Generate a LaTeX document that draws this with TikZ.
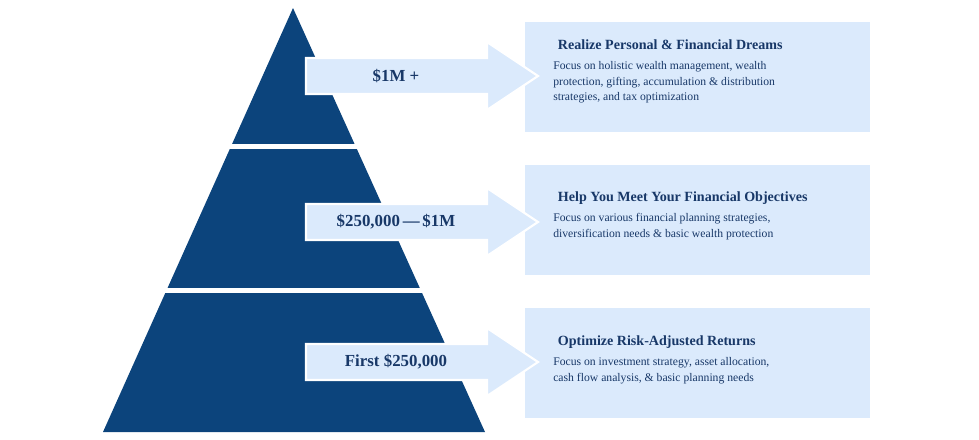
\documentclass[tikz,border=0pt]{standalone}
\usepackage{fontspec}
\setmainfont{Liberation Serif}
\definecolor{pyrblue}{RGB}{12,68,124}
\definecolor{paleblue}{RGB}{219,234,252}
\definecolor{inkblue}{RGB}{24,56,104}
\tikzset{
  band/.style    = {fill=pyrblue, draw=none},
  gapline/.style = {white, line width=3pt},
  arrowbox/.style = {fill=paleblue, draw=white, line width=1.5pt, line join=miter},
  amount/.style  = {font=\fontsize{12}{14}\selectfont\bfseries, text=inkblue},
  infobox/.style = {fill=paleblue, draw=none, minimum width=245bp, minimum height=78bp, anchor=north west},
  heading/.style = {font=\fontsize{10}{12}\selectfont\bfseries, text=inkblue, anchor=west},
  detail/.style  = {font=\fontsize{8.3}{11.2}\selectfont, text=inkblue, anchor=north west, align=left}
}
\begin{document}
\begin{tikzpicture}[x=0.25mm, y=-0.25mm]
  \useasboundingbox (0,0) rectangle (979,439);
  % pyramid
  \fill[band] (293,8) -- (485,432) -- (103,432) -- cycle;
  \draw[gapline] (150,146.5) -- (440,146.5);
  \draw[gapline] (80,290.5) -- (500,290.5);
  % boxes
  \node[infobox, minimum width=345*0.25mm, minimum height=110*0.25mm] (top) at (525,22) {};
  \node[infobox, minimum width=345*0.25mm, minimum height=110*0.25mm] (mid) at (525,165) {};
  \node[infobox, minimum width=345*0.25mm, minimum height=110*0.25mm] (low) at (525,308) {};
  % arrows
  \foreach \y/\amt/\nm in {76/{\$1M +}/a, 222/{\$250,000\,\textemdash\,\$1M}/b, 362/{First \$250,000}/c} {
    \draw[arrowbox] (306,\y-18) -- (487,\y-18) -- (487,\y-34) -- (538,\y) -- (487,\y+34)
      -- (487,\y+18) -- (306,\y+18) -- cycle;
    \node[amount] (\nm) at (396,\y) {\amt};
  }
  % texts
  \node[heading] (toph) at (553,45) {Realize Personal \& Financial Dreams};
  \node[detail, inner sep=0pt] (topd) at (553,61) {Focus on holistic wealth management, wealth\\
    protection, gifting, accumulation \& distribution\\strategies, and tax optimization};
  \node[heading] (midh) at (553,198) {Help You Meet Your Financial Objectives};
  \node[detail, inner sep=0pt] (midd) at (553,213) {Focus on various financial planning strategies,\\
    diversification needs \& basic wealth protection};
  \node[heading] (lowh) at (553,342) {Optimize Risk-Adjusted Returns};
  \node[detail, inner sep=0pt] (lowd) at (553,357) {Focus on investment strategy, asset allocation,\\
    cash flow analysis, \& basic planning needs};
\end{tikzpicture}
\end{document}
